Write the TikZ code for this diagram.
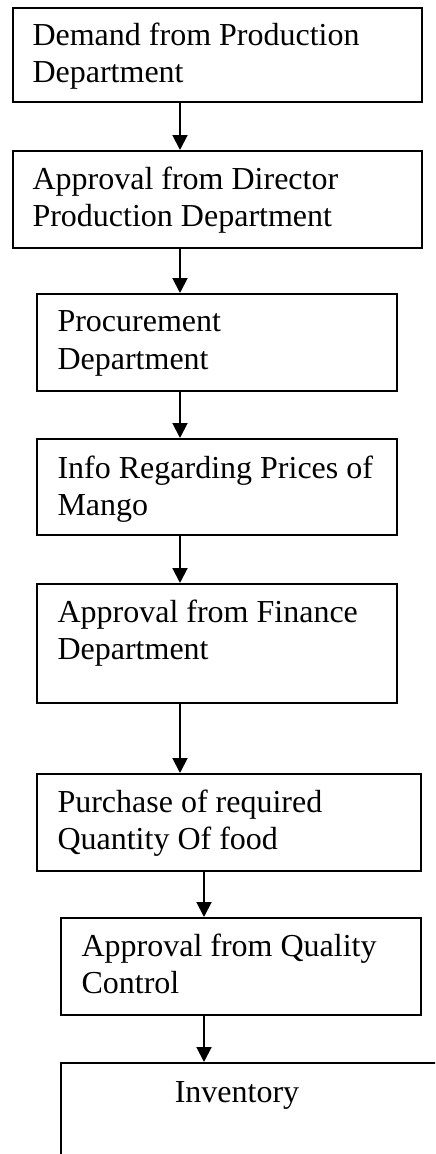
\documentclass[tikz,border=0pt]{standalone}
\usepackage{fontspec}
\setmainfont{Liberation Serif}
\usetikzlibrary{arrows.meta}
\begin{document}
\begin{tikzpicture}[x=0.375pt,y=-0.375pt,
  box/.style={draw=black,line width=0.75pt,rectangle,inner sep=0pt,anchor=north west},
  txt/.style={anchor=base west,inner sep=0pt,font=\fontsize{12}{14}\selectfont},
  ctxt/.style={anchor=base,inner sep=0pt,font=\fontsize{12}{14}\selectfont},
  arr/.style={draw=black,line width=0.75pt,-{Triangle[length=5.6pt,width=5.6pt]}}]
\useasboundingbox (0,0) rectangle (435,1154);
\clip (0,0) rectangle (435,1154);
\node[box,minimum width=409*0.375pt,minimum height=94*0.375pt] (b1) at (12,7) {};
\node[box,minimum width=409*0.375pt,minimum height=97*0.375pt] (b2) at (12,150) {};
\node[box,minimum width=360*0.375pt,minimum height=97*0.375pt] (b3) at (36,293) {};
\node[box,minimum width=360*0.375pt,minimum height=96*0.375pt] (b4) at (36,438) {};
\node[box,minimum width=360*0.375pt,minimum height=119*0.375pt] (b5) at (36,583) {};
\node[box,minimum width=384*0.375pt,minimum height=97*0.375pt] (b6) at (36,773) {};
\node[box,minimum width=360*0.375pt,minimum height=97*0.375pt] (b7) at (60,917) {};
\node[box,minimum width=390*0.375pt,minimum height=140*0.375pt] (b8) at (60,1062) {};
\node[txt] (t1a) at (32,46) {Demand from Production};
\node[txt] (t1b) at (32,83) {Department};
\node[txt] (t2a) at (32,190) {Approval from Director};
\node[txt] (t2b) at (32,227) {Production Department};
\node[txt] (t3a) at (57,332) {Procurement};
\node[txt] (t3b) at (57,369) {Department};
\node[txt] (t4a) at (57,478) {Info Regarding Prices of};
\node[txt] (t4b) at (57,515) {Mango};
\node[txt] (t5a) at (57,622) {Approval from Finance};
\node[txt] (t5b) at (57,659) {Department};
\node[txt] (t6a) at (57,812) {Purchase of required};
\node[txt] (t6b) at (57,849) {Quantity Of food};
\node[txt] (t7a) at (81,956) {Approval from Quality};
\node[txt] (t7b) at (81,993) {Control};
\node[ctxt] (t8) at (237,1102) {Inventory};
\coordinate (c1) at (180,0);
\coordinate (c2) at (204,0);
\draw[arr] (b1.south -| c1) -- (b2.north -| c1);
\draw[arr] (b2.south -| c1) -- (b3.north -| c1);
\draw[arr] (b3.south -| c1) -- (b4.north -| c1);
\draw[arr] (b4.south -| c1) -- (b5.north -| c1);
\draw[arr] (b5.south -| c1) -- (b6.north -| c1);
\draw[arr] (b6.south -| c2) -- (b7.north -| c2);
\draw[arr] (b7.south -| c2) -- (b8.north -| c2);
\end{tikzpicture}
\end{document}
